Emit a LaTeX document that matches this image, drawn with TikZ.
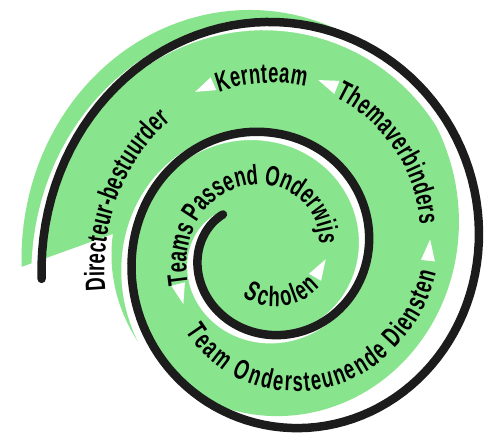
\documentclass[tikz,border=0pt]{standalone}
\usepackage{fontspec}
\newfontfamily\spiralfont{Liberation Sans}[FakeStretch=0.66]
\usetikzlibrary{calc, decorations.text}
\definecolor{spiralgreen}{RGB}{137,229,141}
\definecolor{spiralblack}{RGB}{28,28,28}
\newcommand{\bandfont}{\spiralfont\bfseries\fontsize{28}{28}\selectfont}
% white arrow head along the band, pointing inward->outward (t decreasing)
\newcommand{\flowtri}[2]{%
  \coordinate (tip) at ({bx(#1-#2,53-8*#1)},{by(#1-#2,53-8*#1)});
  \coordinate (base) at ({bx(#1+#2,53-8*#1)},{by(#1+#2,53-8*#1)});
  \fill[white] (tip) -- ($(base)!7pt!90:(tip)$) -- ($(base)!7pt!-90:(tip)$) -- cycle;}

\begin{document}
\begin{tikzpicture}[
    x=1pt, y=-1pt,
    declare function={
        rr(\t) = 250 - 118*\t + 12*\t*\t;
        ee(\t) = max(0, 10*(1.25 - \t));
        bx(\t,\d) = 292 - 16*\t - (rr(\t) - \d)*cos(360*\t);
        by(\t,\d) = 254 - (rr(\t) + ee(\t) - \d)*sin(360*\t);
    },
    spiralline/.style={line width=8.5pt, line cap=round, draw=spiralblack},
    spiralshade/.style={line width=8.5pt, line cap=round, draw=white},
    bandtext/.style={decorate, decoration={text along path,
                     text align=center, text={|\bandfont|#1}}},
]
\fill[white] (0,0) rectangle (491,436);
\useasboundingbox (0,0) rectangle (491,436);

% --- Green band ---
\fill[spiralgreen] plot[domain=-0.015:1.01, samples=160, variable=\t]
    ({bx(\t,0)-20}, {by(\t,0)-12}) -- cycle;

% --- Spiral line with its white offset ---
\draw[spiralshade] plot[domain=-0.015:2.135, samples=260, variable=\t]
    ({bx(\t,0)-6}, {by(\t,0)+4});
\draw[spiralline] plot[domain=-0.015:2.135, samples=260, variable=\t]
    ({bx(\t,0)}, {by(\t,0)});

% --- Labels along the band ---
% clockwise: path just inside the baseline
\path[bandtext=Directeur-bestuurder, decoration={raise=6pt}]
    plot[domain=-0.075:0.185, samples=60, variable=\t]
    ({bx(\t,69-8*\t)}, {by(\t,69-8*\t)});
\path[bandtext=Kernteam, decoration={raise=6pt}]
    plot[domain=0.16:0.29, samples=40, variable=\t]
    ({bx(\t,69-8*\t)}, {by(\t,69-8*\t)});
\path[bandtext=Themaverbinders, decoration={raise=6pt}]
    plot[domain=0.274:0.494, samples=50, variable=\t]
    ({bx(\t,69-8*\t)}, {by(\t,69-8*\t)});
\path[bandtext=Teams Passend Onderwijs]
    plot[domain=0.915:1.535, samples=90, variable=\t]
    ({bx(\t,63-8*\t)}, {by(\t,63-8*\t)});
% counter-clockwise: path on the letter tops
\path[bandtext=Team Ondersteunende Diensten, decoration={raise=-20pt}]
    plot[domain=0.963:0.463, samples=90, variable=\t]
    ({bx(\t,63-8*\t)}, {by(\t,63-8*\t)});
\path[bandtext=Scholen, decoration={raise=-10pt}]
    plot[domain=2.056:1.456, samples=60, variable=\t]
    ({bx(\t,53-8*\t)}, {by(\t,53-8*\t)});

% --- Flow arrows ---
\flowtri{0.171}{0.0089}
\flowtri{0.289}{0.0096}
\flowtri{0.496}{0.011}
\flowtri{0.939}{0.0152}
\flowtri{1.543}{0.0285}
\end{tikzpicture}
\end{document}
